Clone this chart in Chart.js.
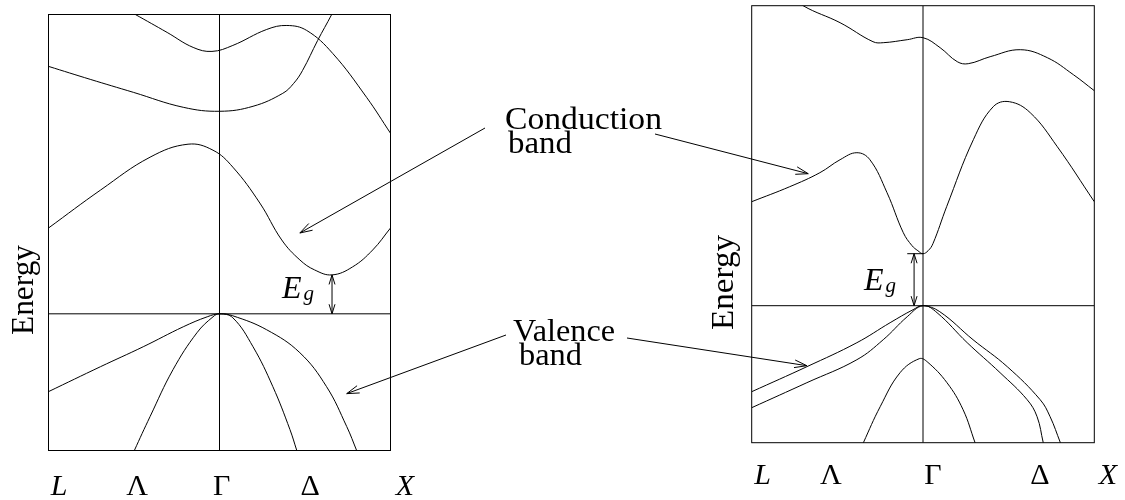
<!DOCTYPE html>
<html>
<head>
<meta charset="utf-8">
<title>Band structures: indirect and direct gap</title>
<script src="https://cdn.jsdelivr.net/npm/chart.js@4.4.1/dist/chart.umd.min.js"></script>
<style>
  html, body { margin: 0; padding: 0; background: #fff; }
  #stage { position: relative; width: 1125px; height: 500px; overflow: hidden; }
  #stage canvas { position: absolute; top: 0; }
  #leftCanvas { left: 0; }
  #rightCanvas { left: 700px; }
  #overlay { left: 0; pointer-events: none; }
</style>
</head>
<body>
<div id="stage">
  <canvas id="leftCanvas" width="420" height="500"></canvas>
  <canvas id="rightCanvas" width="425" height="500"></canvas>
  <canvas id="overlay" width="1125" height="500"></canvas>
</div>
<script>
const SERIF = '"Liberation Serif", "Times New Roman", serif';

// k runs along L (0) - Gamma (0.5) - X (1); energies are relative to the valence-band top.
const pathLabels = ['L', 'Λ', 'Γ', 'Δ', 'X'];
const leftLabelPos = [0.031, 0.259, 0.506, 0.765, 1.042];
const rightLabelPos = [0.032, 0.231, 0.529, 0.841, 1.040];
const energyMin = -1.37;
const energyMax = 3.0;

// Indirect-gap crystal (left panel), [k, E]
const leftCond3 = [[0.222, 3.06], [0.254, 3.0], [0.347, 2.82], [0.423, 2.67], [0.478, 2.63], [0.539, 2.69],
  [0.638, 2.85], [0.697, 2.89], [0.755, 2.84], [0.831, 2.61], [0.93, 2.17], [1.0, 1.81]];
const leftCond2 = [[0, 2.48], [0.122, 2.35], [0.248, 2.22], [0.394, 2.07], [0.501, 2.03], [0.598, 2.08],
  [0.685, 2.21], [0.717, 2.31], [0.743, 2.44], [0.787, 2.74], [0.828, 3.0], [0.845, 3.12]];
const leftCond1 = [[0, 0.86], [0.152, 1.24], [0.297, 1.57], [0.408, 1.70], [0.481, 1.64], [0.539, 1.47],
  [0.618, 1.11], [0.682, 0.74], [0.735, 0.54], [0.778, 0.44], [0.829, 0.39], [0.889, 0.47], [0.948, 0.64], [1.0, 0.86]];
const leftVal1 = [[0, -0.78], [0.152, -0.53], [0.277, -0.33], [0.394, -0.13], [0.464, -0.03], [0.5, 0],
  [0.539, -0.02], [0.638, -0.16], [0.735, -0.39], [0.813, -0.73], [0.872, -1.13], [0.901, -1.37], [0.915, -1.49]];
const leftVal2 = [[0.233, -1.51], [0.251, -1.37], [0.297, -1.03], [0.364, -0.56], [0.434, -0.19], [0.481, -0.03],
  [0.5, 0], [0.539, -0.04], [0.598, -0.33], [0.656, -0.73], [0.706, -1.16], [0.726, -1.37], [0.738, -1.49]];
const leftGap = { k: 0.829, top: 0.39 };

// Direct-gap crystal (right panel), [k, E]
const rightCond2 = [[0.126, 3.09], [0.15, 3.0], [0.258, 2.83], [0.354, 2.64], [0.384, 2.63], [0.454, 2.66],
  [0.5, 2.68], [0.55, 2.58], [0.6, 2.44], [0.632, 2.42], [0.696, 2.49], [0.784, 2.56], [0.863, 2.48],
  [0.939, 2.31], [1.0, 2.15]];
const rightCond1 = [[0, 1.04], [0.111, 1.19], [0.199, 1.33], [0.258, 1.46], [0.307, 1.53], [0.345, 1.46],
  [0.395, 1.13], [0.4425, 0.73], [0.468, 0.60], [0.485, 0.55], [0.5, 0.52], [0.515, 0.55], [0.529, 0.62],
  [0.569, 0.99], [0.647, 1.66], [0.705, 1.99], [0.752, 2.04], [0.813, 1.93], [0.892, 1.59], [1.0, 1.04]];
const rightVal1 = [[0, -0.86], [0.161, -0.61], [0.307, -0.37], [0.404, -0.17], [0.471, -0.04], [0.5, 0],
  [0.549, -0.06], [0.646, -0.34], [0.746, -0.61], [0.842, -0.94], [0.871, -1.11], [0.901, -1.37], [0.915, -1.49]];
const rightVal2 = [[0, -1.02], [0.161, -0.77], [0.307, -0.54], [0.384, -0.34], [0.454, -0.11], [0.5, 0],
  [0.541, -0.07], [0.629, -0.37], [0.725, -0.67], [0.804, -0.94], [0.833, -1.11], [0.851, -1.37], [0.86, -1.49]];
const rightSplitOff = [[0.311, -1.49], [0.326, -1.37], [0.375, -1.01], [0.433, -0.67], [0.489, -0.53],
  [0.512, -0.56], [0.57, -0.77], [0.617, -1.04], [0.652, -1.37], [0.665, -1.49]];
const rightGap = { k: 0.474, top: 0.52, tickFrom: 0.454, tickTo: 0.5 };

// Where the "Conduction band" / "Valence band" arrows point, [k, E] in each panel
const condArrowLeft = [0.735, 0.81];
const condArrowRight = [0.165, 1.32];
const valArrowLeft = [0.872, -0.80];
const valArrowRight = [0.161, -0.60];

function bandDataset(points) {
  return {
    data: points.map(([k, E]) => ({ x: k, y: E })),
    showLine: true, fill: false,
    borderColor: '#000', borderWidth: 1,
    pointRadius: 0, pointHoverRadius: 0,
    tension: 0.4
  };
}
function straightDataset(points) {
  return {
    data: points.map(([k, E]) => ({ x: k, y: E })),
    showLine: true, fill: false,
    borderColor: '#000', borderWidth: 1,
    pointRadius: 0, pointHoverRadius: 0,
    tension: 0
  };
}

function openHead(ctx, tipX, tipY, fromX, fromY, len, halfAngle) {
  const a = Math.atan2(tipY - fromY, tipX - fromX);
  ctx.beginPath();
  ctx.moveTo(tipX - len * Math.cos(a - halfAngle), tipY - len * Math.sin(a - halfAngle));
  ctx.lineTo(tipX, tipY);
  ctx.lineTo(tipX - len * Math.cos(a + halfAngle), tipY - len * Math.sin(a + halfAngle));
  ctx.stroke();
}

function fitText(ctx, text, x, y, width) {
  const w = ctx.measureText(text).width;
  ctx.save();
  ctx.translate(x, y);
  ctx.scale(width / w, 1);
  ctx.fillText(text, 0, 0);
  ctx.restore();
}

// Frame, "Energy" label and the E_g marker of one panel
const panelDecor = {
  id: 'panelDecor',
  afterDatasetsDraw(chart, args, opts) {
    const { ctx, chartArea: a, scales: { x, y } } = chart;
    ctx.save();
    ctx.strokeStyle = '#000';
    ctx.fillStyle = '#000';
    ctx.lineWidth = 1;
    ctx.strokeRect(a.left, a.top, a.right - a.left, a.bottom - a.top);

    // band-gap double arrow
    const gx = x.getPixelForValue(opts.gap.k);
    const gTop = y.getPixelForValue(opts.gap.top);
    const gBot = y.getPixelForValue(0);
    ctx.beginPath();
    ctx.moveTo(gx, gTop);
    ctx.lineTo(gx, gBot);
    ctx.stroke();
    openHead(ctx, gx, gTop, gx, gBot, 10, 0.3);
    openHead(ctx, gx, gBot, gx, gTop, 10, 0.3);
    if (opts.gap.tickFrom !== undefined) {
      ctx.beginPath();
      ctx.moveTo(x.getPixelForValue(opts.gap.tickFrom), gTop);
      ctx.lineTo(x.getPixelForValue(opts.gap.tickTo), gTop);
      ctx.stroke();
    }
    ctx.textBaseline = 'alphabetic';
    ctx.textAlign = 'left';
    ctx.font = 'italic 32px ' + SERIF;
    ctx.fillText('E', gx - 50, gBot - 16);
    ctx.font = 'italic 21px ' + SERIF;
    ctx.fillText('g', gx - 28.5, gBot - 13.5);

    // vertical axis name
    ctx.font = '31px ' + SERIF;
    ctx.save();
    ctx.translate(a.left + opts.energy.dx, a.bottom - opts.energy.up);
    ctx.rotate(-Math.PI / 2);
    fitText(ctx, 'Energy', 0, 0, opts.energy.width);
    ctx.restore();
    ctx.restore();
  }
};

function makePanel(canvasId, bands, labelPos, gap, frame) {
  const datasets = bands.map(bandDataset);
  datasets.push(straightDataset([[0.5, energyMin], [0.5, energyMax]]));
  datasets.push(straightDataset([[0, 0], [1, 0]]));
  return new Chart(document.getElementById(canvasId), {
    type: 'scatter',
    data: { datasets },
    plugins: [panelDecor],
    options: {
      responsive: false,
      animation: false,
      devicePixelRatio: 1,
      events: [],
      layout: { padding: { top: frame.top, right: frame.right, bottom: 0, left: 0 } },
      plugins: {
        legend: { display: false },
        tooltip: { enabled: false },
        panelDecor: { gap, energy: frame.energy }
      },
      scales: {
        x: {
          type: 'linear', min: 0, max: 1, bounds: 'data',
          grid: { display: false, drawTicks: false },
          border: { display: false },
          afterBuildTicks: (s) => { s.ticks = labelPos.map(v => ({ value: v })); },
          afterFit: (s) => { s.height = frame.axisHeight; s.paddingLeft = 0; s.paddingRight = 0; },
          ticks: {
            autoSkip: false, maxRotation: 0, minRotation: 0,
            padding: frame.tickPad, color: '#000',
            font: (c) => ({ family: SERIF, size: 30,
              style: (c.index === 0 || c.index === 4) ? 'italic' : 'normal' }),
            callback: (v, i) => pathLabels[i]
          }
        },
        y: {
          type: 'linear', min: energyMin, max: energyMax,
          grid: { display: false, drawTicks: false },
          border: { display: false },
          ticks: { display: false },
          afterFit: (s) => { s.width = frame.axisWidth; s.paddingTop = 0; s.paddingBottom = 0; }
        }
      }
    }
  });
}

const leftChart = makePanel('leftCanvas',
  [leftCond3, leftCond2, leftCond1, leftVal1, leftVal2], leftLabelPos, leftGap,
  { axisWidth: 48.5, top: 14.5, right: 29.5, axisHeight: 49.5, tickPad: 19,
    energy: { dx: -16, up: 115.5, width: 90 } });

const rightChart = makePanel('rightCanvas',
  [rightCond2, rightCond1, rightVal1, rightVal2, rightSplitOff], rightLabelPos, rightGap,
  { axisWidth: 51.7, top: 5.7, right: 30.7, axisHeight: 57.3, tickPad: 15,
    energy: { dx: -18.4, up: 112.7, width: 95 } });

// Shared annotations between the two panels
function pagePoint(chart, offsetX, [k, E]) {
  return [offsetX + chart.scales.x.getPixelForValue(k), chart.scales.y.getPixelForValue(E)];
}

(function drawAnnotations() {
  const ctx = document.getElementById('overlay').getContext('2d');
  ctx.strokeStyle = '#000';
  ctx.fillStyle = '#000';
  ctx.lineWidth = 1;
  const arrows = [
    [[485, 128], pagePoint(leftChart, 0, condArrowLeft)],
    [[655, 134], pagePoint(rightChart, 700, condArrowRight)],
    [[506, 335], pagePoint(leftChart, 0, valArrowLeft)],
    [[627, 338], pagePoint(rightChart, 700, valArrowRight)]
  ];
  for (const [[x0, y0], [x1, y1]] of arrows) {
    ctx.beginPath();
    ctx.moveTo(x0, y0);
    ctx.lineTo(x1, y1);
    ctx.stroke();
    openHead(ctx, x1, y1, x0, y0, 13, 0.3);
  }
  ctx.font = '31px ' + SERIF;
  ctx.textBaseline = 'alphabetic';
  fitText(ctx, 'Conduction', 505, 129, 157);
  fitText(ctx, 'band', 508, 153, 64);
  fitText(ctx, 'Valence', 513, 341, 102);
  fitText(ctx, 'band', 519, 365, 63);
})();
</script>
</body>
</html>
